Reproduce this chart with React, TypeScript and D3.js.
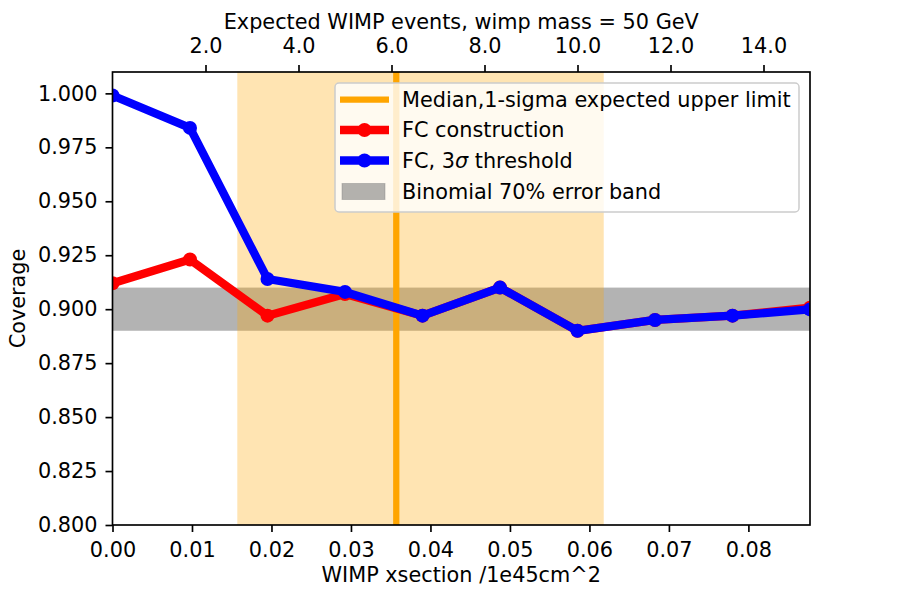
import React, { useEffect, useRef } from 'react';
import * as d3 from 'd3';

// cross-section points (1e45 cm^2)
const xsection = [0, 0.00975, 0.0195, 0.02925, 0.039, 0.04875, 0.0585, 0.06825, 0.078, 0.08775];
const fcConstruction = [0.912, 0.923, 0.897, 0.907, 0.897, 0.910, 0.890, 0.895, 0.897, 0.9007];
const fcThreshold = [0.999, 0.984, 0.914, 0.908, 0.897, 0.910, 0.890, 0.895, 0.897, 0.8999];
const medianLimit = [0.0357];
const sigmaBand = [0.0157, 0.0618];
const binomialBand = [0.89, 0.91];
const xTicks = [0, 0.01, 0.02, 0.03, 0.04, 0.05, 0.06, 0.07, 0.08];
const yTicks = [0.8, 0.825, 0.85, 0.875, 0.9, 0.925, 0.95, 0.975, 1.0];
const eventTicks = [2, 4, 6, 8, 10, 12, 14];
// legend labels split in parts; parts marked true are math italic
const legendLabels = [
  [['Median,1-sigma expected upper limit', false]],
  [['FC construction', false]],
  [['FC, 3', false], ['σ', true], [' threshold', false]],
  [['Binomial 70% error band', false]],
];

const width = 900;
const height = 600;
const margin = { top: 72, right: 90, bottom: 75, left: 112.5 };
const font = 'DejaVu Sans';
const fontSize = '20.8px';

function App() {
  const ref = useRef(null);

  useEffect(() => {
    const svg = d3.select(ref.current);
    svg.selectAll('*').remove();

    const x = d3.scaleLinear().domain([0, 0.08775]).range([margin.left, width - margin.right]);
    const xTop = d3.scaleLinear().domain([0, 15]).range([margin.left, width - margin.right]);
    const y = d3.scaleLinear().domain([0.8, 1.0099]).range([height - margin.bottom, margin.top]);

    svg.append('rect').attr('width', width).attr('height', height).attr('fill', '#fff');

    // binomial band (grey), then the 1-sigma band on top
    svg.append('rect')
      .attr('x', x.range()[0])
      .attr('width', x.range()[1] - x.range()[0])
      .attr('y', y(binomialBand[1]))
      .attr('height', y(binomialBand[0]) - y(binomialBand[1]))
      .attr('fill', 'gray')
      .attr('fill-opacity', 0.6);

    svg.append('rect')
      .attr('x', x(sigmaBand[0]))
      .attr('width', x(sigmaBand[1]) - x(sigmaBand[0]))
      .attr('y', margin.top)
      .attr('height', y.range()[0] - margin.top)
      .attr('fill', 'orange')
      .attr('fill-opacity', 0.3);

    svg.append('line')
      .attr('x1', x(medianLimit[0])).attr('x2', x(medianLimit[0]))
      .attr('y1', margin.top).attr('y2', y.range()[0])
      .attr('stroke', 'orange')
      .attr('stroke-width', 6.25);

    const series = [
      { values: fcConstruction, color: '#ff0000' },
      { values: fcThreshold, color: '#0000ff' },
    ];

    const line = d3.line().x((d) => x(d[0])).y((d) => y(d[1]));

    const clip = svg.append('clipPath').attr('id', 'plot-clip');
    clip.append('rect')
      .attr('x', margin.left).attr('y', margin.top)
      .attr('width', width - margin.right - margin.left)
      .attr('height', height - margin.bottom - margin.top);

    const plot = svg.append('g').attr('clip-path', 'url(#plot-clip)');
    series.forEach((s) => {
      const pts = xsection.map((xv, i) => [xv, s.values[i]]);
      plot.append('path')
        .attr('d', line(pts))
        .attr('fill', 'none')
        .attr('stroke', s.color)
        .attr('stroke-width', 8.3)
        .attr('stroke-linejoin', 'round');
      plot.selectAll(null)
        .data(pts)
        .enter()
        .append('circle')
        .attr('cx', (d) => x(d[0]))
        .attr('cy', (d) => y(d[1]))
        .attr('r', 7)
        .attr('fill', s.color);
    });

    // axes
    const bottom = svg.append('g')
      .attr('transform', `translate(0, ${y.range()[0]})`)
      .call(d3.axisBottom(x).tickValues(xTicks).tickFormat(d3.format('.2f')).tickSizeOuter(0).tickSize(7).tickPadding(10));
    const left = svg.append('g')
      .attr('transform', `translate(${margin.left}, 0)`)
      .call(d3.axisLeft(y).tickValues(yTicks).tickFormat(d3.format('.3f')).tickSizeOuter(0).tickSize(7).tickPadding(8));
    const top = svg.append('g')
      .attr('transform', `translate(0, ${margin.top})`)
      .call(d3.axisTop(xTop).tickValues(eventTicks).tickFormat(d3.format('.1f')).tickSizeOuter(0).tickSize(7).tickPadding(12));

    [bottom, left, top].forEach((g) => {
      g.select('.domain').remove();
      g.selectAll('text').style('font-family', font).style('font-size', fontSize).attr('fill', '#000');
      g.selectAll('line').attr('stroke', '#000').attr('stroke-width', 1.67);
    });

    // frame
    svg.append('rect')
      .attr('x', margin.left).attr('y', margin.top)
      .attr('width', width - margin.right - margin.left)
      .attr('height', y.range()[0] - margin.top)
      .attr('fill', 'none')
      .attr('stroke', '#000')
      .attr('stroke-width', 1.67);

    // axis titles
    const cx = (margin.left + width - margin.right) / 2;
    svg.append('text')
      .attr('x', cx).attr('y', 582)
      .attr('text-anchor', 'middle')
      .style('font-family', font).style('font-size', fontSize)
      .text('WIMP xsection /1e45cm^2');
    svg.append('text')
      .attr('x', cx).attr('y', 29)
      .attr('text-anchor', 'middle')
      .style('font-family', font).style('font-size', fontSize)
      .text('Expected WIMP events, wimp mass = 50 GeV');
    svg.append('text')
      .attr('transform', `translate(25, ${(margin.top + y.range()[0]) / 2}) rotate(-90)`)
      .attr('text-anchor', 'middle')
      .style('font-family', font).style('font-size', fontSize)
      .text('Coverage');

    // legend
    const lg = svg.append('g').attr('transform', 'translate(335, 83)');
    lg.append('rect')
      .attr('width', 464).attr('height', 129)
      .attr('rx', 4)
      .attr('fill', '#fff').attr('fill-opacity', 0.8)
      .attr('stroke', '#cccccc').attr('stroke-width', 1.5);

    const rows = [16.5, 47, 77.5, 108.5];
    // orange median line
    lg.append('line')
      .attr('x1', 5).attr('x2', 54).attr('y1', rows[0]).attr('y2', rows[0])
      .attr('stroke', 'orange').attr('stroke-width', 6.25);
    [
      { row: rows[1], color: '#ff0000' },
      { row: rows[2], color: '#0000ff' },
    ].forEach((h) => {
      lg.append('line')
        .attr('x1', 5).attr('x2', 54).attr('y1', h.row).attr('y2', h.row)
        .attr('stroke', h.color).attr('stroke-width', 8.3);
      lg.append('circle').attr('cx', 29.5).attr('cy', h.row).attr('r', 7).attr('fill', h.color);
    });
    lg.append('rect')
      .attr('x', 7).attr('y', rows[3] - 8).attr('width', 43).attr('height', 16)
      .attr('fill', 'gray').attr('fill-opacity', 0.6)
      .attr('stroke', 'gray').attr('stroke-opacity', 0.4);

    const labels = lg.selectAll('text.lab')
      .data(legendLabels)
      .enter()
      .append('text')
      .attr('class', 'lab')
      .attr('x', 67)
      .attr('y', (_, i) => rows[i])
      .attr('dy', '0.36em')
      .style('font-family', font).style('font-size', fontSize);
    labels.selectAll('tspan')
      .data((d) => d)
      .enter()
      .append('tspan')
      .style('font-style', (d) => (d[1] ? 'italic' : 'normal'))
      .text((d) => d[0]);
  }, []);

  return (
    <svg
      ref={ref}
      width={width}
      height={height}
      style={{ position: 'absolute', left: 0, top: 0 }}
    />
  );
}

export default App;
